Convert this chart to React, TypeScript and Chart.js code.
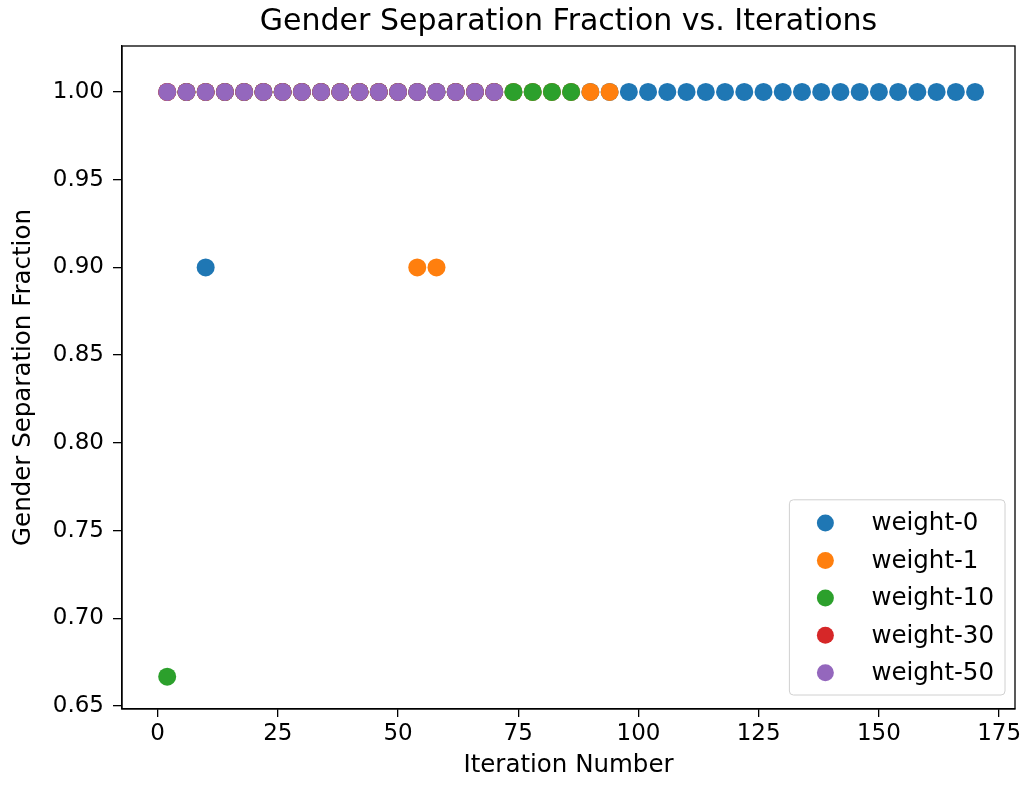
import React, { useEffect, useRef } from "react";
import { Chart, registerables } from "chart.js";

Chart.register(...registerables);

const iterations = [
  2, 6, 10, 14, 18, 22, 26, 30, 34, 38, 42, 46, 50, 54, 58, 62, 66, 70, 74, 78, 82, 86,
  90, 94, 98, 102, 106, 110, 114, 118, 122, 126, 130, 134, 138, 142, 146, 150, 154, 158,
  162, 166, 170,
];

const weight0 = [
  1, 1, 0.9, 1, 1, 1, 1, 1, 1, 1, 1, 1, 1, 1, 1, 1, 1, 1, 1, 1, 1, 1,
  1, 1, 1, 1, 1, 1, 1, 1, 1, 1, 1, 1, 1, 1, 1, 1, 1, 1, 1, 1, 1,
];
const weight1 = [
  1, 1, 1, 1, 1, 1, 1, 1, 1, 1, 1, 1, 1, 0.9, 0.9, 1, 1, 1, 1, 1, 1, 1, 1, 1,
];
const weight10 = [
  0.6667, 1, 1, 1, 1, 1, 1, 1, 1, 1, 1, 1, 1, 1, 1, 1, 1, 1, 1, 1, 1, 1,
];
const weight30 = [1, 1, 1, 1, 1, 1, 1, 1, 1, 1, 1, 1, 1, 1, 1, 1, 1, 1];
const weight50 = [1, 1, 1, 1, 1, 1, 1, 1, 1, 1, 1, 1, 1, 1, 1, 1, 1, 1];

const seriesNames = ["weight-0", "weight-1", "weight-10", "weight-30", "weight-50"];
const seriesValues = [weight0, weight1, weight10, weight30, weight50];
const seriesColors = ["#1f77b4", "#ff7f0e", "#2ca02c", "#d62728", "#9467bd"];

const xTicks = [0, 25, 50, 75, 100, 125, 150, 175];
const yTicks = [0.65, 0.7, 0.75, 0.8, 0.85, 0.9, 0.95, 1.0];

const chartTitle = "Gender Separation Fraction vs. Iterations";
const xLabel = "Iteration Number";
const yLabel = "Gender Separation Fraction";

const FONT = "'DejaVu Sans', sans-serif";
const TICK_SIZE = 23;
const LABEL_SIZE = 24.5;
const TITLE_SIZE = 30;

const framePlugin = {
  id: "frameAndExtras",
  afterDraw(chart: any) {
    const { ctx, chartArea } = chart;
    const { left, right, top, bottom } = chartArea;
    ctx.save();
    // frame
    ctx.strokeStyle = "#000";
    ctx.lineWidth = 1.3;
    ctx.strokeRect(left, top, right - left, bottom - top);

    // title
    ctx.fillStyle = "#000";
    ctx.font = `${TITLE_SIZE}px ${FONT}`;
    ctx.textAlign = "center";
    ctx.textBaseline = "middle";
    ctx.fillText(chartTitle, (left + right) / 2, top - 24);

    // legend
    ctx.font = `${LABEL_SIZE}px ${FONT}`;
    const names: string[] = chart.data.datasets.map((d: any) => d.label);
    const colors: string[] = chart.data.datasets.map((d: any) => d.backgroundColor);
    let maxW = 0;
    names.forEach((n) => (maxW = Math.max(maxW, ctx.measureText(n).width)));
    const rowH = 37.4;
    const boxW = 82 + maxW + 11;
    const boxH = 23.3 + rowH * (names.length - 1) + 22.3;
    const bx = right - 10 - boxW;
    const by = bottom - 14 - boxH;
    const r = 4;
    ctx.beginPath();
    ctx.moveTo(bx + r, by);
    ctx.lineTo(bx + boxW - r, by);
    ctx.arcTo(bx + boxW, by, bx + boxW, by + r, r);
    ctx.lineTo(bx + boxW, by + boxH - r);
    ctx.arcTo(bx + boxW, by + boxH, bx + boxW - r, by + boxH, r);
    ctx.lineTo(bx + r, by + boxH);
    ctx.arcTo(bx, by + boxH, bx, by + boxH - r, r);
    ctx.lineTo(bx, by + r);
    ctx.arcTo(bx, by, bx + r, by, r);
    ctx.closePath();
    ctx.fillStyle = "rgba(255,255,255,0.8)";
    ctx.fill();
    ctx.strokeStyle = "#d0d0d0";
    ctx.lineWidth = 1;
    ctx.stroke();

    names.forEach((n, i) => {
      const cy = by + 23.3 + i * rowH;
      ctx.beginPath();
      ctx.arc(bx + 36, cy, 8.5, 0, Math.PI * 2);
      ctx.fillStyle = colors[i];
      ctx.fill();
      ctx.fillStyle = "#000";
      ctx.textAlign = "left";
      ctx.textBaseline = "middle";
      ctx.fillText(n, bx + 82, cy + 1);
    });
    ctx.restore();
  },
};

export default function App() {
  const canvasRef = useRef<HTMLCanvasElement | null>(null);

  useEffect(() => {
    document.body.style.margin = "0";
    const canvas = canvasRef.current;
    if (!canvas) return;

    const datasets = seriesNames.map((name, si) => ({
      label: name,
      data: seriesValues[si].map((v, i) => ({ x: iterations[i], y: v })),
      backgroundColor: seriesColors[si],
      borderColor: seriesColors[si],
      borderWidth: 0,
      pointRadius: 9,
      pointHoverRadius: 9,
      order: seriesNames.length - 1 - si,
    }));

    const tickFont = { family: FONT, size: TICK_SIZE };

    const chart = new Chart(canvas, {
      type: "scatter",
      data: { datasets },
      plugins: [framePlugin],
      options: {
        responsive: false,
        animation: false,
        devicePixelRatio: 1,
        layout: { padding: { top: 46, right: 11, left: 0, bottom: 0 }, autoPadding: false },
        plugins: {
          legend: { display: false },
          title: { display: false },
          tooltip: { enabled: false },
        },
        scales: {
          x: {
            type: "linear",
            min: -7.4,
            max: 178.3,
            afterBuildTicks: (s: any) => {
              s.ticks = xTicks.map((v) => ({ value: v }));
            },
            afterFit: (s: any) => {
              s.height = 76;
            },
            ticks: {
              font: tickFont,
              color: "#000",
              padding: 3,
              maxRotation: 0,
              autoSkip: false,
              callback: (v: any) => String(v),
            },
            grid: {
              display: true,
              drawOnChartArea: false,
              drawTicks: true,
              tickLength: 8,
              color: "#000",
              lineWidth: 1.3,
            },
            border: { display: true, color: "#000", width: 1.3 },
            title: {
              display: true,
              text: xLabel,
              font: { family: FONT, size: LABEL_SIZE },
              color: "#000",
              padding: { top: 0, bottom: 5 },
            },
          },
          y: {
            type: "linear",
            min: 0.6483,
            max: 1.0262,
            afterBuildTicks: (s: any) => {
              s.ticks = yTicks.map((v) => ({ value: v }));
            },
            afterFit: (s: any) => {
              s.width = 122;
            },
            ticks: {
              font: tickFont,
              color: "#000",
              padding: 9,
              autoSkip: false,
              callback: (v: any) => Number(v).toFixed(2),
            },
            grid: {
              display: true,
              drawOnChartArea: false,
              drawTicks: true,
              tickLength: 9,
              color: "#000",
              lineWidth: 1.3,
            },
            border: { display: true, color: "#000", width: 1.3 },
            title: {
              display: true,
              text: yLabel,
              font: { family: FONT, size: LABEL_SIZE },
              color: "#000",
              padding: { top: 9, bottom: 0 },
            },
          },
        },
      },
    } as any);

    return () => chart.destroy();
  }, []);

  return (
    <div style={{ width: 1026, height: 785, background: "#fff" }}>
      <canvas ref={canvasRef} width={1026} height={785} style={{ display: "block" }} />
    </div>
  );
}
